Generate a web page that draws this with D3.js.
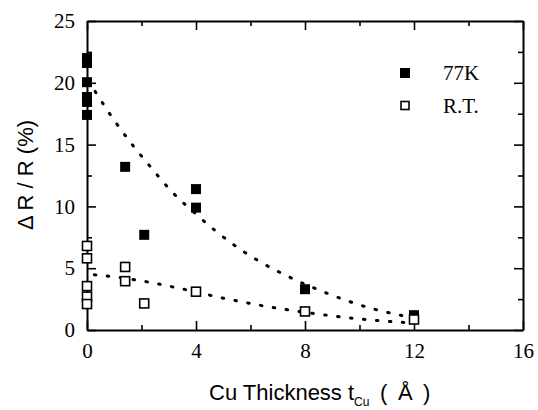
<!DOCTYPE html>
<html><head><meta charset="utf-8">
<script src="https://cdn.jsdelivr.net/npm/d3@7"></script>
<style>
html,body{margin:0;padding:0;background:#fff;}
svg{display:block;}
</style></head>
<body>
<svg id="chart" width="538" height="410"></svg>
<script>
// ---- data ----
const k77X = [0, 0, 0, 0, 0, 0, 1.4, 2.1, 4, 4, 8, 12];
const k77Y = [22.0, 21.6, 20.05, 18.85, 18.45, 17.4, 13.2, 7.7, 11.4, 9.9, 3.3, 1.2];
const rtX = [0, 0, 0, 0, 0, 1.4, 1.4, 2.1, 4, 8, 12];
const rtY = [6.8, 5.8, 3.55, 2.7, 2.1, 5.1, 3.95, 2.15, 3.1, 1.5, 0.85];
const fit77X = [0.3, 0.94, 1.59, 2.31, 3.11, 4.04, 4.7, 5.35, 6.29, 7.18, 8.0, 8.55, 9.44, 10.35, 11.24, 12.0];
const fit77Y = [19.3, 17.15, 15.2, 13.25, 11.2, 9.3, 8.05, 6.95, 5.6, 4.55, 3.7, 3.2, 2.45, 1.8, 1.32, 0.98];
const fitRTX = [0.27, 1.2, 2.15, 3.07, 4.0, 4.84, 5.76, 6.65, 7.57, 8.45, 9.37, 10.26, 11.16, 12.0];
const fitRTY = [4.47, 4.25, 3.92, 3.52, 3.08, 2.65, 2.25, 1.88, 1.57, 1.3, 1.04, 0.84, 0.68, 0.56];
const xMajor = [0, 4, 8, 12, 16];
const xMinor = [2, 6, 10, 14];
const yMajor = [0, 5, 10, 15, 20, 25];
const yMinor = [2.5, 7.5, 12.5, 17.5, 22.5];
const legendLabels = ["77K", "R.T."];

// ---- layout ----
const svg = d3.select("#chart");
const x = d3.scaleLinear().domain([0, 16]).range([87, 523]);
const y = d3.scaleLinear().domain([0, 25]).range([330, 21]);
const serif = "'Liberation Serif','Times New Roman',serif";
const sans = "'Liberation Sans',Arial,sans-serif";

function styleAxis(g) {
  g.attr("font-family", null).attr("font-size", null);
  g.select(".domain").attr("stroke", "#000").attr("stroke-width", 2);
  g.selectAll(".tick line").attr("stroke", "#000").attr("stroke-width", 1.6);
  g.selectAll(".tick text").style("font-family", serif).style("font-size", "21px").attr("fill", "#000");
}
function minor(g) {
  g.select(".domain").remove();
  g.selectAll(".tick line").attr("stroke", "#000").attr("stroke-width", 1.6);
}

// bottom
svg.append("g").attr("transform", "translate(0,330)")
  .call(d3.axisBottom(x).tickValues(xMajor).tickSize(-9).tickSizeOuter(0).tickPadding(13).tickFormat(d3.format("d")))
  .call(styleAxis);
svg.append("g").attr("transform", "translate(0,330)")
  .call(d3.axisBottom(x).tickValues(xMinor).tickSize(-5).tickSizeOuter(0).tickFormat(""))
  .call(minor);
// top
svg.append("g").attr("transform", "translate(0,21)")
  .call(d3.axisTop(x).tickValues(xMajor).tickSize(-9).tickSizeOuter(0).tickFormat(""))
  .call(styleAxis);
svg.append("g").attr("transform", "translate(0,21)")
  .call(d3.axisTop(x).tickValues(xMinor).tickSize(-5).tickSizeOuter(0).tickFormat(""))
  .call(minor);
// left
svg.append("g").attr("transform", "translate(87,0)")
  .call(d3.axisLeft(y).tickValues(yMajor).tickSize(-9).tickSizeOuter(0).tickPadding(12).tickFormat(d3.format("d")))
  .call(styleAxis);
svg.append("g").attr("transform", "translate(87,0)")
  .call(d3.axisLeft(y).tickValues(yMinor).tickSize(-5).tickSizeOuter(0).tickFormat(""))
  .call(minor);
// right
svg.append("g").attr("transform", "translate(523,0)")
  .call(d3.axisRight(y).tickValues(yMajor).tickSize(-9).tickSizeOuter(0).tickFormat(""))
  .call(styleAxis);
svg.append("g").attr("transform", "translate(523,0)")
  .call(d3.axisRight(y).tickValues(yMinor).tickSize(-5).tickSizeOuter(0).tickFormat(""))
  .call(minor);

// fit curves (dotted)
const line = d3.line().x(d => x(d[0])).y(d => y(d[1])).curve(d3.curveMonotoneX);
[[fit77X, fit77Y], [fitRTX, fitRTY]].forEach(([fx, fy]) => {
  svg.append("path")
    .datum(fx.map((v, i) => [v, fy[i]]))
    .attr("d", line)
    .attr("fill", "none")
    .attr("stroke", "#000")
    .attr("stroke-width", 3)
    .attr("stroke-linecap", "round")
    .attr("stroke-dasharray", "1.5 11.5");
});

// markers
const sF = 10, sO = 9;
svg.append("g").selectAll("rect")
  .data(k77X.map((v, i) => [v, k77Y[i]]))
  .join("rect")
  .attr("x", d => x(d[0]) - sF / 2).attr("y", d => y(d[1]) - sF / 2)
  .attr("width", sF).attr("height", sF).attr("fill", "#000");
svg.append("g").selectAll("rect")
  .data(rtX.map((v, i) => [v, rtY[i]]))
  .join("rect")
  .attr("x", d => x(d[0]) - sO / 2).attr("y", d => y(d[1]) - sO / 2)
  .attr("width", sO).attr("height", sO).attr("fill", "#fff")
  .attr("stroke", "#000").attr("stroke-width", 1.6);

// legend
const lg = svg.append("g");
lg.append("rect").attr("x", 405 - sF / 2).attr("y", 73 - sF / 2).attr("width", sF).attr("height", sF).attr("fill", "#000");
lg.append("rect").attr("x", 405 - sO / 2 + 0.5).attr("y", 106 - sO / 2).attr("width", sO - 1).attr("height", sO - 1)
  .attr("fill", "#fff").attr("stroke", "#000").attr("stroke-width", 1.6);
lg.selectAll("text").data(legendLabels).join("text")
  .attr("x", 443).attr("y", (d, i) => 73 + i * 33).attr("dy", "0.35em")
  .style("font-family", serif).style("font-size", "21px").attr("fill", "#000")
  .text(d => d);

// y label
svg.append("text")
  .attr("transform", "translate(33,175) rotate(-90)")
  .attr("text-anchor", "middle")
  .style("font-family", sans).style("font-size", "22px").attr("fill", "#000")
  .text("Δ R / R (%)");

// x label
const xl = svg.append("text").attr("x", 209).attr("y", 400)
  .style("font-family", sans).style("font-size", "22px").attr("fill", "#000");
xl.append("tspan").text("Cu Thickness t");
xl.append("tspan").style("font-size", "12px").attr("dy", 6).text("Cu");
xl.append("tspan").attr("x", 380).attr("dy", -6).text("(");
xl.append("tspan").attr("x", 398).text("Å");
xl.append("tspan").attr("x", 423).text(")");
</script>
</body></html>
